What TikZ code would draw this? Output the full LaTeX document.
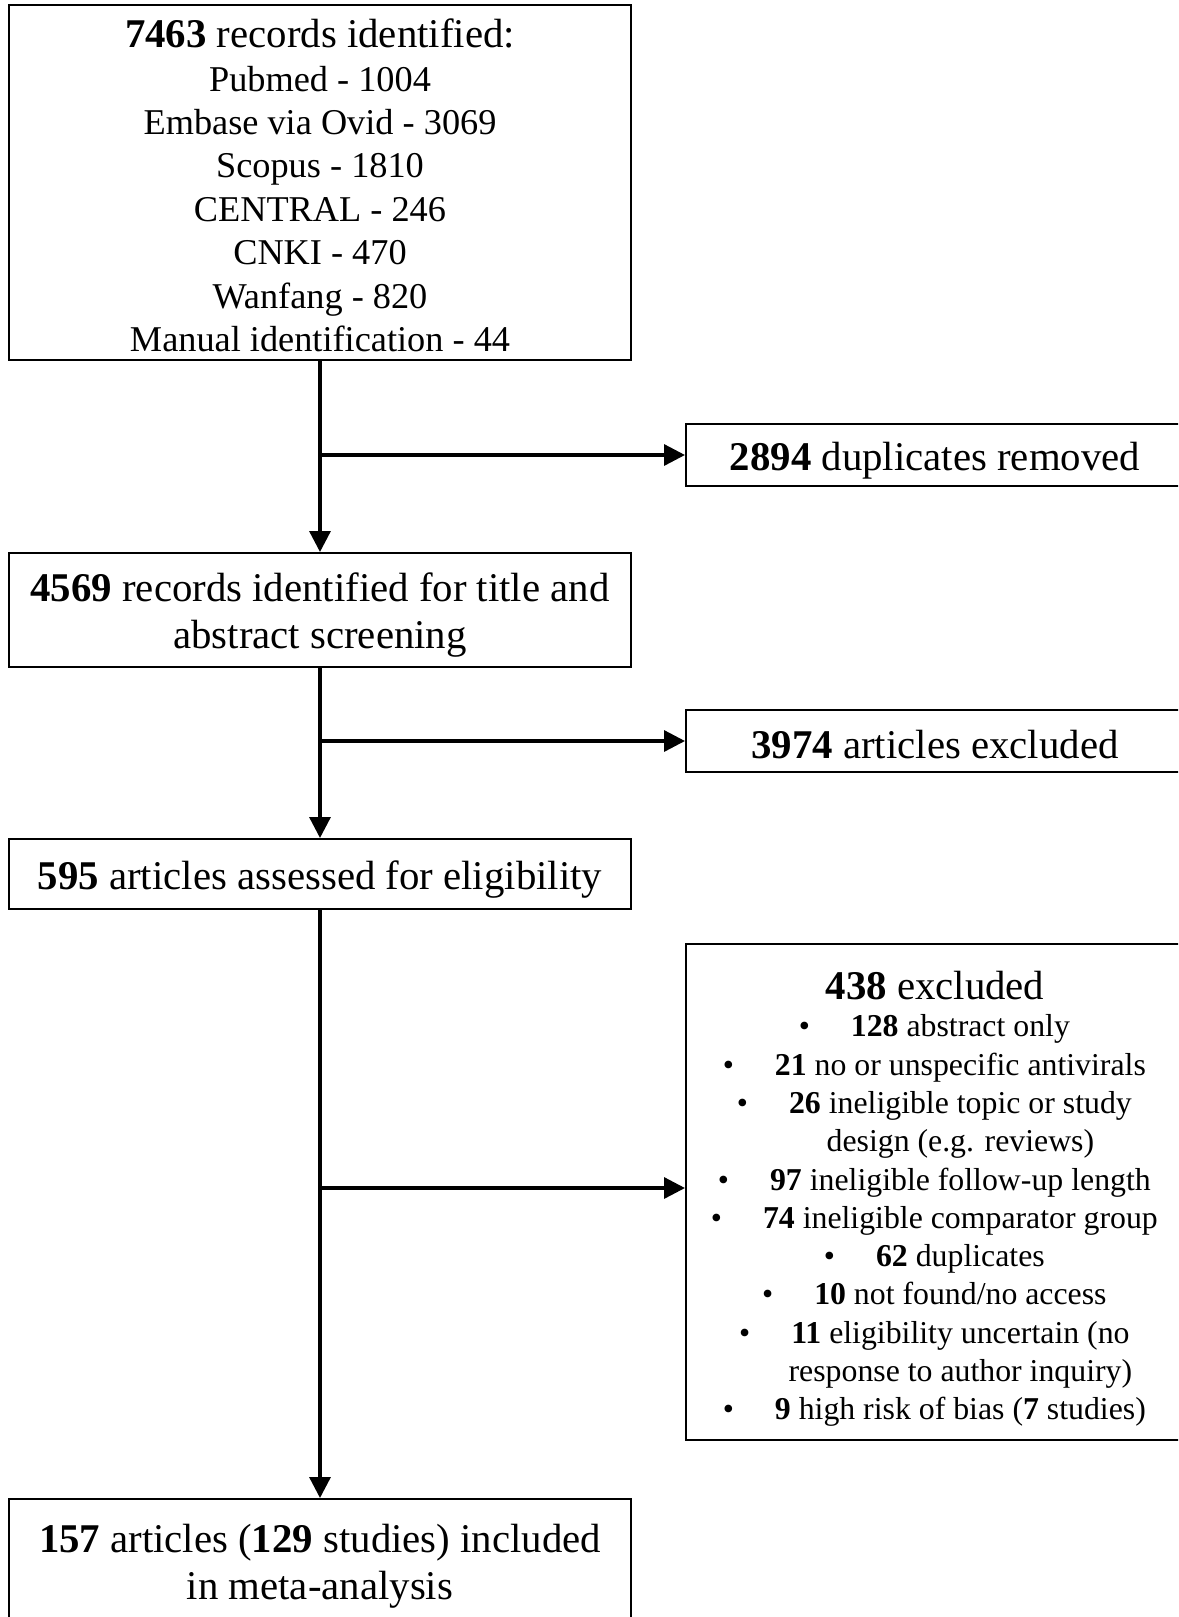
\documentclass[tikz,border=0pt]{standalone}
\usepackage{fontspec}
\setmainfont{Liberation Serif}
\usetikzlibrary{arrows.meta}
\newcommand\bulitem{\llap{\textbullet\hspace{41pt}}}
\begin{document}
\begin{tikzpicture}[x=1pt,y=-1pt,
  box/.style={draw=black,line width=2pt,rectangle,inner sep=0pt},
  sidebox/.style={box,minimum width=498pt},
  mainbox/.style={box,minimum width=622pt},
  txt/.style={inner sep=0pt,align=center,font=\fontsize{40.8}{47}\selectfont},
  arr/.style={line width=3.3pt,-{Triangle[length=21pt,width=21pt]}}]
\useasboundingbox (0,0) rectangle (1178,1617);
\fill[white] (0,0) rectangle (1178,1617);
\clip (0,0) rectangle (1178,1617);

% main column boxes
\node[mainbox,minimum height=355pt] (top) at (320,182.5) {};
\node[mainbox,minimum height=114pt] (screen) at (320,610) {};
\node[mainbox,minimum height=70pt] (elig) at (320,874) {};
\node[mainbox,minimum height=123pt] (incl) at (320,1560.5) {};

% side boxes
\node[sidebox,minimum height=62pt] (dup) at (935,455) {};
\node[sidebox,minimum height=62pt] (excl) at (935,741) {};
\node[sidebox,minimum height=496pt] (excl2) at (935,1192) {};

% texts
\node[txt,font=\fontsize{36.3}{43.4}\selectfont] (toptext) at ([yshift=-3pt]top.center)
  {{\fontsize{40.8}{43.4}\selectfont\textbf{7463} records identified:}\\
   Pubmed - 1004\\
   Embase via Ovid - 3069\\
   Scopus - 1810\\
   CENTRAL - 246\\
   CNKI - 470\\
   Wanfang - 820\\
   Manual identification - 44};
\node[txt] (screentext) at ([yshift=-5.5pt]screen.center)
  {\textbf{4569} records identified for title and\\abstract screening};
\node[txt] (eligtext) at ([yshift=-6pt]elig.center)
  {\textbf{595} articles assessed for eligibility};
\node[txt] (incltext) at ([yshift=-5.5pt]incl.center)
  {\textbf{157} articles (\textbf{129} studies) included\\in meta-analysis};
\node[txt] (duptext) at ([yshift=-6pt]dup.center)
  {\textbf{2894} duplicates removed};
\node[txt] (excltext) at ([yshift=-4pt]excl.center)
  {\textbf{3974} articles excluded};
\node[txt] (excl2head) at (935,986)
  {\textbf{438} excluded};
\node[txt,font=\fontsize{31.8}{38.3}\selectfont] (excl2list) at (960.4,1220.7)
  {\bulitem\textbf{128} abstract only\\
   \bulitem\textbf{21} no or unspecific antivirals\\
   \bulitem\textbf{26} ineligible topic or study\\
   design (e.g. reviews)\\
   \bulitem\textbf{97} ineligible follow-up length\\
   \bulitem\textbf{74} ineligible comparator group\\
   \bulitem\textbf{62} duplicates\\
   \bulitem\textbf{10} not found/no access\\
   \bulitem\textbf{11} eligibility uncertain (no\\
   response to author inquiry)\\
   \bulitem\textbf{9} high risk of bias (\textbf{7} studies)};

% connectors
\draw[arr] (top) -- (screen);
\draw[arr] (screen) -- (elig);
\draw[arr] (elig) -- (incl);
\coordinate (j1) at (top.south |- dup.west);
\coordinate (j2) at (top.south |- excl.west);
\coordinate (j3) at (320,1188);
\draw[arr] (j1) -- (dup.west);
\draw[arr] (j2) -- (excl.west);
\draw[arr] (j3) -- (j3 -| excl2.west);
\end{tikzpicture}
\end{document}
